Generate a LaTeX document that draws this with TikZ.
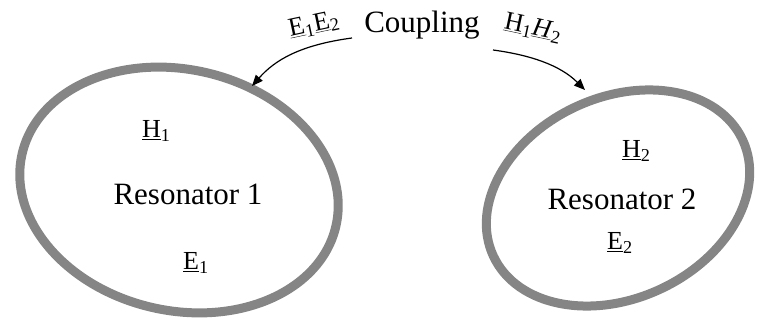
\documentclass[tikz,border=0pt]{standalone}
\usepackage{fontspec}
\setmainfont{Liberation Serif}
\usetikzlibrary{shapes.geometric,arrows.meta}
\begin{document}
\begin{tikzpicture}[x=1pt,y=-1pt,
  ring/.style={draw=black!48, line width=9pt, ellipse, inner sep=0pt},
  big/.style={font=\fontsize{31}{31}\selectfont, inner sep=0pt},
  vec/.style={font=\fontsize{26}{26}\selectfont, inner sep=0pt},
  conn/.style={-{Triangle[length=11pt,width=9pt]}, line width=1.2pt}]
\useasboundingbox (0,0) rectangle (760,320);
\node[ring, minimum width=322pt, minimum height=241pt, rotate=-13] (r1) at (179,190) {};
\node[ring, minimum width=275pt, minimum height=201pt, rotate=25] (r2) at (618,198) {};
\node[big, anchor=base] (res1) at (188,205) {Resonator 1};
\node[big, anchor=base] (res2) at (622,210) {Resonator 2};
\node[vec, anchor=base west] (h1) at (142,138) {\underline{H}\textsubscript{1}};
\node[vec, anchor=base west] (e1) at (183,270) {\underline{E}\textsubscript{1}};
\node[vec, anchor=base west] (h2) at (622,158) {\underline{H}\textsubscript{2}};
\node[vec, anchor=base west] (e2) at (607,250) {\underline{E}\textsubscript{2}};
\node[big, anchor=base] (coup) at (422,33) {Coupling};
\node[vec, rotate=12] (ee) at (314,25) {\underline{E}\textsubscript{1}\underline{E}\textsubscript{2}};
\node[vec, rotate=-12] (hh) at (533,28) {\underline{H}\textsubscript{1}\underline{\textit{H}}\textsubscript{2}};
\coordinate (s1) at (352,38);
\coordinate (t1) at (252,86);
\coordinate (s2) at (493,50);
\coordinate (t2) at (585,90);
\draw[conn] (s1) .. controls (300,45) and (275,60) .. (t1);
\draw[conn] (s2) .. controls (530,55) and (560,65) .. (t2);
\end{tikzpicture}
\end{document}
